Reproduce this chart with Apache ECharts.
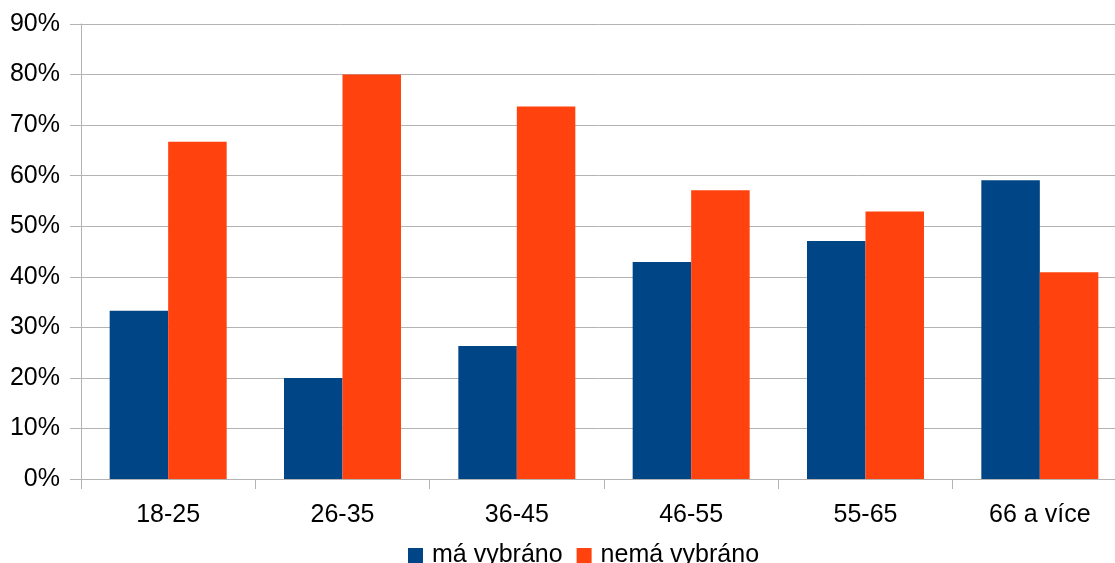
<!DOCTYPE html>
<html>
<head>
<meta charset="utf-8">
<script src="https://cdn.jsdelivr.net/npm/echarts@6/dist/echarts.min.js"></script>
<style>html,body{margin:0;padding:0;background:#fff;}#c{width:1115px;height:563px;}</style>
</head>
<body>
<div id="c"></div>
<script>
const categories = ['18-25', '26-35', '36-45', '46-55', '55-65', '66 a více'];
const maVybrano = [33.3, 20.0, 26.3, 42.9, 47.1, 59.1];
const nemaVybrano = [66.7, 80.0, 73.7, 57.1, 52.9, 40.9];
const seriesNames = ['má vybráno', 'nemá vybráno'];

const chart = echarts.init(document.getElementById('c'), null, {renderer: 'canvas'});
const font = 'Liberation Sans, Arial, sans-serif';
chart.setOption({
  animation: false,
  backgroundColor: '#ffffff',
  grid: {left: 81, top: 24, bottom: 84, width: 1046, containLabel: false, outerBoundsMode: 'none'},
  legend: {
    left: 403, top: 538,
    itemWidth: 15, itemHeight: 15, itemGap: 14,
    icon: 'rect',
    textStyle: {fontFamily: font, fontSize: 25, color: '#000', padding: [0, 0, 0, 4]},
    data: seriesNames
  },
  xAxis: {
    type: 'category',
    data: categories,
    axisLine: {show: true, lineStyle: {color: '#b3b3b3', width: 1}},
    axisTick: {show: true, length: 10, lineStyle: {color: '#b3b3b3'}},
    axisLabel: {fontFamily: font, fontSize: 25, color: '#000', margin: 24},
    splitLine: {show: false}
  },
  yAxis: {
    type: 'value',
    min: 0, max: 90, interval: 10,
    axisLine: {show: true, lineStyle: {color: '#b3b3b3', width: 1}},
    axisTick: {show: true, length: 11, lineStyle: {color: '#b3b3b3'}},
    axisLabel: {fontFamily: font, fontSize: 25, color: '#000', margin: 21, formatter: '{value}%'},
    splitLine: {show: true, lineStyle: {color: '#b3b3b3', width: 1}}
  },
  series: [
    {name: seriesNames[0], type: 'bar', data: maVybrano, barWidth: 58.5, barGap: '0%', itemStyle: {color: '#004586'}},
    {name: seriesNames[1], type: 'bar', data: nemaVybrano, barWidth: 58.5, barGap: '0%', itemStyle: {color: '#ff420e'}}
  ]
});
</script>
</body>
</html>
